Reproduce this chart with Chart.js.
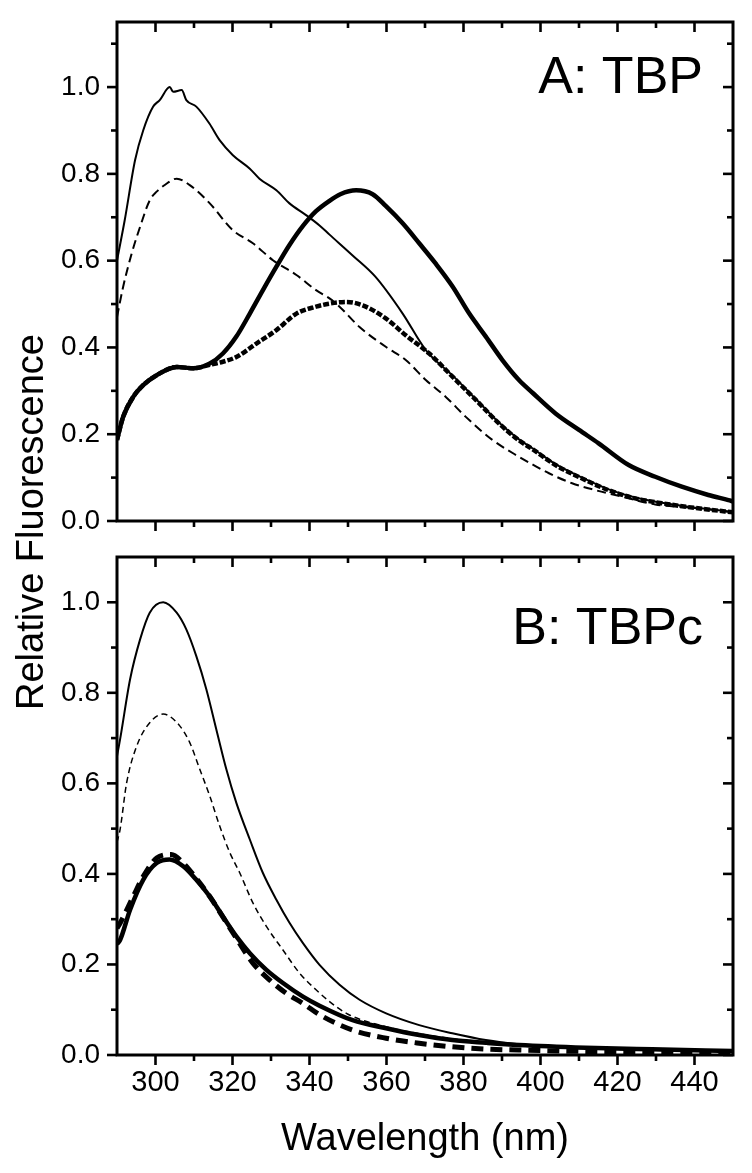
<!DOCTYPE html>
<html><head><meta charset="utf-8">
<script src="https://cdn.jsdelivr.net/npm/chart.js@4.4.1/dist/chart.umd.min.js"></script>
<style>
html,body{margin:0;padding:0;background:#fff;}
.wrap{position:absolute;left:0;top:0;width:752px;height:1173px;}
</style></head><body>
<div class="wrap"><canvas id="cA"></canvas></div>
<div class="wrap"><canvas id="cB"></canvas></div>
<script>
// ---------- Tick values ----------
const xMajor = [300, 320, 340, 360, 380, 400, 420, 440];
const xMinor = [310, 330, 350, 370, 390, 410, 430];
const yMajor = [0.0, 0.2, 0.4, 0.6, 0.8, 1.0];
const yMinorA = [0.1, 0.3, 0.5, 0.7, 0.9, 1.1];
const yMinorB = [0.1, 0.3, 0.5, 0.7, 0.9];

// ---------- Panel A: TBP ----------
const wlA_thinSolid = [290, 292, 294.7, 296.8, 299.4, 301.1, 303.7, 304.6, 306.8, 308, 310.6, 314, 316.7, 320.1, 324.5, 327, 331.4, 334.8, 339.1, 342.6, 345.2, 351.2, 357.1, 364.2, 370.2, 377.2, 383.2, 389.2, 394.4, 398, 403.9, 410.8, 417.7, 424.6, 431.5, 438.4, 444, 450];
const flA_thinSolid = [0.60, 0.693, 0.832, 0.90, 0.955, 0.970, 1.0, 0.989, 0.993, 0.97, 0.955, 0.916, 0.877, 0.843, 0.812, 0.789, 0.762, 0.732, 0.705, 0.681, 0.660, 0.612, 0.563, 0.478, 0.394, 0.335, 0.281, 0.227, 0.188, 0.167, 0.131, 0.100, 0.073, 0.054, 0.042, 0.033, 0.027, 0.021];

const wlA_thinDash = [290, 291.6, 293.8, 296, 298.5, 300.3, 302.5, 305.5, 308.9, 314.1, 320.1, 325.3, 330.5, 336.6, 341.7, 345.2, 347.8, 353, 359.9, 365, 370.2, 375.4, 380.6, 387.5, 394.4, 398, 402.2, 408.2, 414.3, 421.2, 429.8, 440, 450];
const flA_thinDash = [0.47, 0.54, 0.616, 0.678, 0.739, 0.759, 0.775, 0.789, 0.774, 0.732, 0.670, 0.640, 0.601, 0.567, 0.532, 0.513, 0.494, 0.447, 0.401, 0.371, 0.325, 0.286, 0.240, 0.187, 0.148, 0.130, 0.110, 0.087, 0.071, 0.056, 0.038, 0.030, 0.020];

const wlA_thickSolid = [290, 291.6, 294.2, 296.8, 300.3, 305.5, 309.8, 314.1, 317.5, 321, 324.5, 327.9, 331.4, 334.8, 338.3, 341.7, 345.2, 348, 352.1, 356.4, 359.8, 364.2, 368.5, 372.8, 377.2, 381.5, 385.8, 390.1, 394.4, 398, 403.9, 410, 415.1, 422.9, 429.8, 436.7, 443.6, 448.8, 450];
const flA_thickSolid = [0.187, 0.24, 0.286, 0.313, 0.336, 0.355, 0.352, 0.363, 0.386, 0.425, 0.478, 0.532, 0.586, 0.636, 0.680, 0.714, 0.738, 0.753, 0.762, 0.753, 0.726, 0.686, 0.640, 0.593, 0.540, 0.478, 0.425, 0.371, 0.325, 0.295, 0.248, 0.210, 0.179, 0.129, 0.102, 0.079, 0.060, 0.048, 0.045];

const wlA_thickDash = [290, 291.6, 294.2, 296.8, 300.3, 305.5, 309.8, 314.1, 317.5, 321, 326.2, 331.4, 336.6, 341.7, 345.2, 349.5, 353.8, 359.8, 365, 371.1, 377.2, 383.2, 389.2, 394.4, 398, 403.9, 410.8, 417.7, 424.6, 431.5, 438.4, 444, 450];
const flA_thickDash = [0.187, 0.24, 0.286, 0.313, 0.336, 0.355, 0.352, 0.360, 0.367, 0.378, 0.409, 0.440, 0.478, 0.494, 0.501, 0.505, 0.497, 0.467, 0.428, 0.386, 0.332, 0.279, 0.225, 0.186, 0.165, 0.129, 0.098, 0.071, 0.052, 0.041, 0.032, 0.026, 0.020];

// ---------- Panel B: TBPc ----------
const wlB_thinSolid = [290, 290.8, 293.4, 296, 298.5, 302, 305.5, 308, 310.6, 313.2, 315.8, 318.4, 321, 324.5, 327.9, 331.4, 334.8, 338.3, 342.6, 347.8, 353, 359.9, 368.5, 377.1, 385.8, 394.4, 405, 420, 435, 450];
const flB_thinSolid = [0.66, 0.697, 0.83, 0.918, 0.977, 1.0, 0.977, 0.94, 0.881, 0.808, 0.719, 0.631, 0.557, 0.476, 0.402, 0.343, 0.292, 0.247, 0.199, 0.155, 0.122, 0.092, 0.066, 0.048, 0.033, 0.024, 0.018, 0.013, 0.010, 0.008];

const wlB_thinDash = [290, 290.8, 292.5, 295.1, 298.5, 302, 306.3, 308.9, 311.5, 314.1, 316.7, 319.3, 321.9, 325.3, 328.8, 333.1, 337.4, 341.7, 345.2, 350, 360, 370, 380, 390, 400, 420, 450];
const flB_thinDash = [0.47, 0.498, 0.601, 0.682, 0.734, 0.753, 0.727, 0.69, 0.631, 0.572, 0.505, 0.447, 0.402, 0.336, 0.284, 0.232, 0.181, 0.144, 0.118, 0.090, 0.062, 0.045, 0.033, 0.025, 0.020, 0.014, 0.009];

const wlB_thickSolid = [290, 290.8, 293.4, 296.8, 300.3, 303.7, 307.2, 310.6, 314.1, 317.5, 321, 324.5, 328.8, 333.1, 338.3, 342.6, 351.2, 359.9, 368.5, 377.1, 385.8, 394.4, 411.7, 429, 450];
const flB_thickSolid = [0.245, 0.254, 0.321, 0.387, 0.424, 0.432, 0.417, 0.387, 0.350, 0.306, 0.262, 0.225, 0.188, 0.159, 0.129, 0.109, 0.077, 0.059, 0.044, 0.033, 0.027, 0.022, 0.016, 0.0125, 0.009];

const wlB_thickDash = [290, 290.8, 294.2, 296.8, 300.3, 304.1, 307.2, 310.6, 314.1, 317.5, 321, 325.3, 329.6, 334, 338.3, 342.6, 351.2, 359.9, 368.5, 377.1, 385.8, 394.4, 410, 430, 450];
const flB_thickDash = [0.28, 0.291, 0.350, 0.394, 0.435, 0.443, 0.424, 0.390, 0.350, 0.305, 0.258, 0.203, 0.166, 0.136, 0.114, 0.089, 0.055, 0.037, 0.026, 0.018, 0.013, 0.011, 0.008, 0.006, 0.005];

// ---------- helpers ----------
const FONT = "'Liberation Sans', Arial, Helvetica, sans-serif";
const pts = (xs, ys) => xs.map((x, i) => ({x: x, y: ys[i]}));
const ds = (xs, ys, w, dash) => ({
  data: pts(xs, ys), borderColor: '#000', borderWidth: w, borderDash: dash,
  pointRadius: 0, fill: false, cubicInterpolationMode: 'monotone', borderCapStyle: 'butt'
});

const framePlugin = {
  id: 'frameTicks',
  afterDatasetsDraw(chart, args, o) {
    const {ctx, chartArea: a, scales: {x, y}} = chart;
    ctx.save();
    ctx.strokeStyle = '#000';
    ctx.lineWidth = 3;
    ctx.strokeRect(a.left, a.top, a.right - a.left, a.bottom - a.top);
    const seg = (x1, y1, x2, y2) => { ctx.beginPath(); ctx.moveTo(x1, y1); ctx.lineTo(x2, y2); ctx.stroke(); };
    ctx.lineWidth = 2.6;
    const MJ = 10, MN = 6;
    xMajor.forEach(v => { const p = x.getPixelForValue(v); seg(p, a.bottom, p, a.bottom + MJ); seg(p, a.top, p, a.top + MJ); });
    xMinor.forEach(v => { const p = x.getPixelForValue(v); seg(p, a.bottom, p, a.bottom + MN); seg(p, a.top, p, a.top + MN); });
    yMajor.forEach(v => { const p = y.getPixelForValue(v); seg(a.left - MJ, p, a.left, p); seg(a.right - MJ, p, a.right, p); });
    o.minor.forEach(v => { const p = y.getPixelForValue(v); seg(a.left - MN, p, a.left, p); seg(a.right - MN, p, a.right, p); });
    // panel label
    ctx.fillStyle = '#000';
    ctx.font = '52px ' + FONT;
    ctx.textAlign = 'right';
    ctx.textBaseline = 'alphabetic';
    ctx.fillText(o.label, o.lx, o.ly);
    if (o.titles) {
      ctx.font = '38px ' + FONT;
      ctx.textAlign = 'center';
      ctx.fillText('Wavelength (nm)', (a.left + a.right) / 2, 1150);
      ctx.save();
      ctx.translate(43, 522);
      ctx.rotate(-Math.PI / 2);
      ctx.fillText('Relative Fluorescence', 0, 0);
      ctx.restore();
    }
    ctx.restore();
  }
};

function makeChart(id, datasets, cfg) {
  return new Chart(document.getElementById(id), {
    type: 'line',
    data: {datasets: datasets},
    plugins: [framePlugin],
    options: {
      responsive: true, maintainAspectRatio: false, animation: false,
      layout: {padding: {top: cfg.padTop, right: 19, bottom: cfg.padBottom, left: 0}},
      plugins: {legend: {display: false}, tooltip: {enabled: false},
        frameTicks: {minor: cfg.minor, label: cfg.label, lx: 703, ly: cfg.ly, titles: cfg.titles}},
      scales: {
        x: {
          type: 'linear', min: 290, max: 450,
          grid: {display: false, drawTicks: false}, border: {display: false},
          afterBuildTicks: s => { s.ticks = xMajor.map(v => ({value: v})); },
          afterFit: s => { s.height = cfg.xH; s.paddingLeft = 0; s.paddingRight = 0; s.paddingTop = 0; s.paddingBottom = 0; },
          ticks: {display: cfg.xLabels, autoSkip: false, maxRotation: 0, minRotation: 0, padding: 11,
            color: '#000', font: {family: FONT, size: 29}, callback: v => String(v)}
        },
        y: {
          type: 'linear', min: 0, max: cfg.ymax,
          grid: {display: false, drawTicks: false}, border: {display: false},
          afterBuildTicks: s => { s.ticks = yMajor.map(v => ({value: v})); },
          afterFit: s => { s.width = 117; s.paddingLeft = 0; s.paddingRight = 0; s.paddingTop = 0; s.paddingBottom = 0; },
          ticks: {padding: 17, color: '#000', font: {family: FONT, size: 28}, callback: v => Number(v).toFixed(1)}
        }
      }
    }
  });
}

makeChart('cA', [
  ds(wlA_thinDash, flA_thinDash, 2, [9, 5]),
  ds(wlA_thinSolid, flA_thinSolid, 2, []),
  ds(wlA_thickDash, flA_thickDash, 4.5, [6, 2]),
  ds(wlA_thickSolid, flA_thickSolid, 4.5, [])
], {padTop: 22, padBottom: 628, xH: 24, ymax: 1.15, minor: yMinorA, label: 'A: TBP', ly: 93, xLabels: false, titles: false});

makeChart('cB', [
  ds(wlB_thinDash, flB_thinDash, 1.5, [6, 4]),
  ds(wlB_thinSolid, flB_thinSolid, 2, []),
  ds(wlB_thickDash, flB_thickDash, 5, [12, 7]),
  ds(wlB_thickSolid, flB_thickSolid, 4.5, [])
], {padTop: 557, padBottom: 0, xH: 118, ymax: 1.10, minor: yMinorB, label: 'B: TBPc', ly: 644, xLabels: true, titles: true});
</script></body></html>
